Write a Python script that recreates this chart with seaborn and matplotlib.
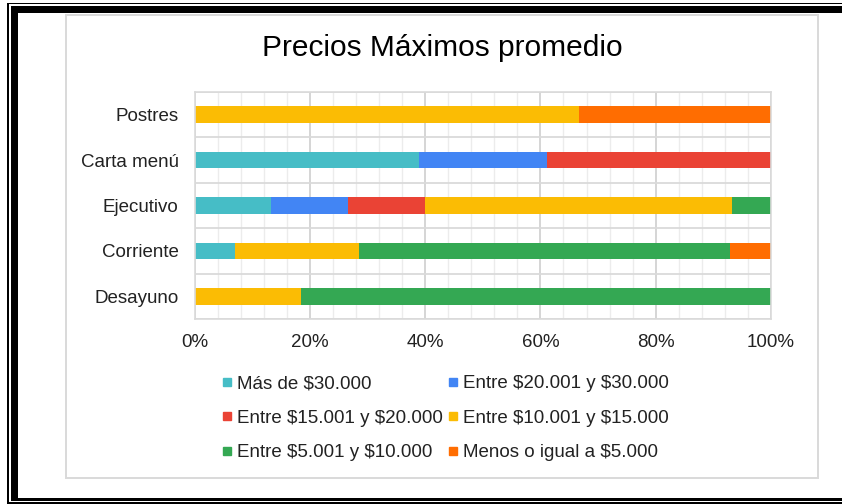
import matplotlib
matplotlib.use('Agg')
import numpy as np
import seaborn as sns
import matplotlib.pyplot as plt
from matplotlib.patches import Rectangle
from matplotlib.lines import Line2D
from matplotlib.ticker import FuncFormatter

# Data (percent of answers per meal type)
categorias = ['Postres', 'Carta menú', 'Ejecutivo', 'Corriente', 'Desayuno']
series = ['Más de $30.000', 'Entre $20.001 y $30.000', 'Entre $15.001 y $20.000',
          'Entre $10.001 y $15.000', 'Entre $5.001 y $10.000', 'Menos o igual a $5.000']
mas_30000 = [0, 38.9, 13.3, 7.1, 0]
de_20001_a_30000 = [0, 22.2, 13.3, 0, 0]
de_15001_a_20000 = [0, 38.9, 13.3, 0, 0]
de_10001_a_15000 = [66.7, 0, 53.3, 21.4, 18.5]
de_5001_a_10000 = [0, 0, 6.7, 64.3, 81.5]
hasta_5000 = [33.3, 0, 0, 7.1, 0]
colores = ['#46BDC6', '#4285F4', '#EA4335', '#FBBC04', '#34A853', '#FF6D01']

valores = np.array([mas_30000, de_20001_a_30000, de_15001_a_20000,
                    de_10001_a_15000, de_5001_a_10000, hasta_5000])
valores = valores / valores.sum(axis=0) * 100  # 100% stacked
acumulado = valores.cumsum(axis=0)

sns.set_theme(style='white')
plt.rcParams['font.family'] = ['Liberation Sans', 'DejaVu Sans']
plt.rcParams['text.parse_math'] = False  # keep the $ signs as plain text

W, H = 842, 504
fig = plt.figure(figsize=(W / 100, H / 100), dpi=100)

# frame around the picture (pixel coords, y down)
bg = fig.add_axes([0, 0, 1, 1], zorder=-1)
bg.set_xlim(0, W)
bg.set_ylim(H, 0)
bg.axis('off')
for (x, y, w, h) in [(7.3, 2.7, 1.7, 501), (7.3, 2.7, W, 1.6), (7.3, 502.3, W, 1.5),
                     (11, 6, W, 7.3), (11, 6, 7.3, 495), (11, 498.3, W, 2.7)]:
    bg.add_patch(Rectangle((x, y), w, h, color='black', lw=0))
bg.add_patch(Rectangle((65.8, 14.8), 752.3, 463.4, fill=False, edgecolor='#d9d9d9', lw=1.4))

# plot area
ax = fig.add_axes([194.5 / W, 1 - 319 / H, (771 - 194.5) / W, (319 - 92) / H])
for i in range(len(series) - 1, -1, -1):
    sns.barplot(x=acumulado[i], y=categorias, orient='h', color=colores[i],
                saturation=1, width=0.37, linewidth=0, ax=ax)

ax.set_xlim(0, 100)
ax.set_ylim(len(categorias) - 0.5, -0.5)
ax.set_xticks(range(0, 101, 20))
ax.set_xticks(range(0, 101, 4), minor=True)
ax.set_yticks(np.arange(-0.5, len(categorias), 1), minor=True)
ax.xaxis.set_major_formatter(FuncFormatter(lambda v, p: f'{v:.0f}%'))
ax.set_axisbelow(True)
ax.grid(axis='x', which='minor', color='#ececec', lw=1)
ax.grid(axis='x', which='major', color='#d2d2d2', lw=1.3)
ax.grid(axis='y', which='minor', color='#dadada', lw=1.3)
ax.grid(axis='y', which='major', visible=False)
ax.tick_params(which='both', length=0)
ax.tick_params(axis='y', pad=11.5, labelsize=13.5, labelcolor='#222222')
ax.tick_params(axis='x', pad=11, labelsize=13.5, labelcolor='#222222')
ax.set_xlabel('')
ax.set_ylabel('')
for s in ax.spines.values():
    s.set_color('#dadada')
    s.set_linewidth(1.2)

fig.text(442.5 / W, 1 - 48 / H, 'Precios Máximos promedio', ha='center', va='center',
         fontsize=21.5, color='black')

# legend: 2 columns, filled row by row
handles = [Line2D([], [], marker='s', linestyle='', markersize=6, color=c) for c in colores]
orden = [0, 2, 4, 1, 3, 5]
fig.legend([handles[i] for i in orden], [series[i] for i in orden],
           loc='upper left', bbox_to_anchor=(222 / W, 1 - 375 / H), ncol=2, frameon=False,
           fontsize=13.5, handlelength=0.5, handletextpad=0.3, columnspacing=0.27,
           labelspacing=0.93, borderpad=0, borderaxespad=0, labelcolor='#222222')

plt.savefig('out.png', dpi=100)
